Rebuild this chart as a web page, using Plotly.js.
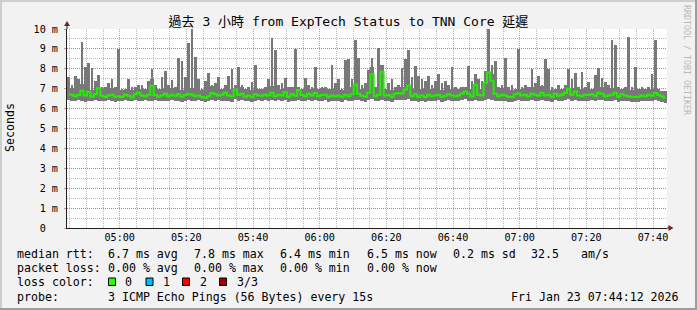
<!DOCTYPE html>
<html>
<head>
<meta charset="utf-8">
<script src="https://cdn.plot.ly/plotly-3.0.1.min.js"></script>
<style>html,body{margin:0;padding:0;background:#f2f2f2;}#chart{width:697px;height:310px;}</style>
</head>
<body>
<div id="chart"></div>
<script>
// ---- data (ms), one value per minute, starting 04:44:12 ----
const startTime = Date.UTC(2026, 0, 23, 4, 44, 12);
const stepMs = 60000;

const smokeMax = [
  7.6, 7.2, 7.65, 7.5, 9.33, 8.1, 8.27, 8.05, 7.4, 7.67,
  7.1, 7.1, 7.27, 7.47, 7.1, 9.0, 7.0, 7.0, 7.5, 7.1,
  7.1, 7.2, 7.2, 7.0, 7.4, 8.0, 7.2, 7.0, 7.6, 7.9,
  7.2, 7.43, 7.1, 8.55, 8.38, 7.6, 9.3, 10.1, 8.6, 7.5,
  7.0, 7.4, 7.8, 7.2, 7.3, 7.6, 7.0, 7.2, 7.65, 7.97,
  7.2, 8.1, 7.2, 7.0, 7.1, 7.35, 8.18, 7.0, 7.0, 7.1,
  7.47, 9.55, 8.97, 7.2, 7.3, 7.55, 7.1, 7.1, 9.0, 7.1,
  7.0, 7.55, 7.2, 7.1, 8.08, 7.0, 7.1, 7.1, 7.0, 8.17,
  7.3, 7.47, 7.0, 8.42, 8.47, 7.47, 9.47, 8.55, 7.2, 7.3,
  7.92, 8.55, 7.1, 9.05, 8.2, 7.0, 7.3, 7.47, 7.1, 7.2,
  8.05, 8.5, 8.95, 7.6, 8.15, 7.63, 7.47, 7.38, 7.63, 7.2,
  7.38, 7.72, 7.3, 7.38, 7.2, 8.1, 7.1, 7.0, 7.1, 7.1,
  8.13, 7.38, 7.72, 7.47, 7.38, 7.88, 10.05, 8.2, 8.38, 7.1,
  7.2, 8.55, 7.1, 7.2, 7.0, 9.0, 7.1, 7.2, 7.1, 7.97,
  7.3, 7.63, 7.2, 8.5, 8.0, 7.1, 7.0, 7.2, 7.0, 7.2,
  7.97, 7.47, 7.77, 7.1, 7.83, 7.1, 7.32, 7.0, 7.7, 8.04,
  7.55, 7.35, 7.2, 9.43, 9.2, 7.1, 7.0, 7.1, 9.62, 7.1,
  8.1, 7.0, 7.1, 7.0, 7.1, 7.76, 9.46, 7.0, 6.9, 6.9
];

const smokeMin = [
  6.42, 6.40, 6.36, 6.44, 6.38, 6.34, 6.40, 6.36, 6.42, 6.38,
  6.40, 6.36, 6.44, 6.40, 6.34, 6.38, 6.36, 6.42, 6.40, 6.36,
  6.44, 6.40, 6.38, 6.42, 6.36, 6.40, 6.44, 6.38, 6.36, 6.40,
  6.38, 6.42, 6.36, 6.40, 6.34, 6.38, 6.42, 6.40, 6.36, 6.44,
  6.36, 6.32, 6.40, 6.44, 6.38, 6.42, 6.36, 6.40, 6.38, 6.34,
  6.46, 6.40, 6.44, 6.38, 6.36, 6.34, 6.40, 6.42, 6.38, 6.44,
  6.40, 6.44, 6.38, 6.42, 6.36, 6.44, 6.34, 6.40, 6.38, 6.42,
  6.40, 6.36, 6.44, 6.38, 6.42, 6.36, 6.40, 6.44, 6.34, 6.38,
  6.36, 6.40, 6.34, 6.42, 6.38, 6.40, 6.44, 6.42, 6.36, 6.34,
  6.42, 6.46, 6.36, 6.40, 6.44, 6.38, 6.40, 6.34, 6.42, 6.44,
  6.42, 6.44, 6.46, 6.36, 6.40, 6.34, 6.38, 6.32, 6.40, 6.36,
  6.38, 6.42, 6.34, 6.38, 6.42, 6.40, 6.36, 6.38, 6.44, 6.46,
  6.40, 6.36, 6.44, 6.40, 6.38, 6.44, 6.46, 6.42, 6.40, 6.36,
  6.40, 6.38, 6.34, 6.32, 6.40, 6.42, 6.38, 6.40, 6.36, 6.42,
  6.40, 6.36, 6.44, 6.38, 6.40, 6.34, 6.42, 6.36, 6.40, 6.44,
  6.46, 6.40, 6.44, 6.38, 6.36, 6.40, 6.38, 6.42, 6.36, 6.44,
  6.42, 6.36, 6.38, 6.40, 6.44, 6.34, 6.40, 6.38, 6.36, 6.34,
  6.32, 6.34, 6.38, 6.36, 6.40, 6.36, 6.42, 6.40, 6.34, 6.30
];

const medianRtt = [
  6.72, 6.70, 6.62, 6.68, 6.90, 6.66, 6.85, 6.60, 6.72, 7.02,
  6.65, 6.58, 6.66, 6.70, 6.60, 6.62, 6.58, 6.70, 6.64, 6.56,
  6.72, 6.80, 6.66, 6.62, 6.70, 7.15, 6.68, 6.60, 6.66, 6.74,
  6.62, 6.70, 6.64, 6.72, 6.60, 6.68, 6.74, 6.70, 6.62, 6.66,
  6.58, 6.54, 6.62, 6.78, 6.72, 6.66, 6.70, 6.80, 6.66, 6.62,
  6.96, 6.70, 6.74, 6.60, 6.66, 6.58, 6.72, 6.66, 6.64, 6.70,
  6.66, 6.80, 6.62, 6.70, 6.66, 6.82, 6.60, 6.72, 6.64, 6.94,
  6.68, 6.62, 6.74, 6.66, 6.78, 6.62, 6.68, 6.70, 6.60, 6.66,
  6.62, 6.66, 6.60, 6.70, 6.62, 6.72, 7.20, 6.74, 6.64, 6.60,
  6.80, 7.72, 6.62, 6.70, 7.85, 6.66, 6.68, 6.60, 6.74, 6.78,
  6.76, 6.96, 7.15, 6.62, 6.72, 6.60, 6.66, 6.58, 6.70, 6.62,
  6.66, 6.70, 6.60, 6.64, 6.72, 6.66, 6.62, 6.66, 6.76, 6.86,
  6.74, 6.62, 7.20, 6.70, 6.66, 7.30, 7.82, 7.40, 6.74, 6.62,
  6.70, 6.66, 6.60, 6.58, 6.72, 6.76, 6.66, 6.70, 6.62, 6.74,
  6.70, 6.64, 6.80, 6.66, 6.70, 6.60, 6.74, 6.64, 6.70, 6.78,
  7.00, 6.70, 6.86, 6.66, 6.62, 6.70, 6.68, 6.72, 6.64, 6.80,
  6.74, 6.62, 6.66, 6.70, 6.80, 6.60, 6.72, 6.66, 6.62, 6.60,
  6.58, 6.60, 6.66, 6.62, 6.70, 6.64, 6.78, 6.70, 6.62, 6.54
];

const yTickVals = [0, 1, 2, 3, 4, 5, 6, 7, 8, 9, 10];
const yTickText = ['0\u00a0\u00a0', '1 m', '2 m', '3 m', '4 m', '5 m', '6 m', '7 m', '8 m', '9 m', '10 m'];

const titleText = '過去 3 小時 from ExpTech Status to TNN Core 延遲';
const statsRtt = ['6.7 ms avg', '7.8 ms max', '6.4 ms min', '6.5 ms now', '0.2 ms sd', '32.5', 'am/s'];
const statsLoss = ['0.00 % avg', '0.00 % max', '0.00 % min', '0.00 % now'];
const lossLabels = ['0', '1', '2', '3/3'];
const lossColors = ['#26ff00', '#00b8ff', '#ff0000', '#a00000'];
const probeText = '3 ICMP Echo Pings (56 Bytes) every 15s';
const stampText = 'Fri Jan 23 07:44:12 2026';

// ---- build ----
const xs = smokeMax.map((_, i) => startTime + (i + 0.5) * stepMs);
// dense smoke body around the median, narrower spikes above it
const bodyTop = smokeMax.map((v, i) => Math.min(v, medianRtt[i] + 0.35));
const bodySpan = bodyTop.map((v, i) => v - smokeMin[i]);
const spikeSpan = smokeMax.map((v, i) => Math.max(0, v - bodyTop[i]));
const endTime = startTime + smokeMax.length * stepMs;

const MONO = 'DejaVu Sans Mono, Noto Sans CJK TC, monospace';
const L = 67, R = 667, T = 29, B = 228;
const px = x => (x - L) / (R - L);
const py = y => (B - y) / (B - T);

function txt(x, y, s, size, extra) {
  return Object.assign({
    xref: 'paper', yref: 'paper', x: px(x), y: py(y), text: s, showarrow: false,
    xanchor: 'left', yanchor: 'middle', borderpad: 0,
    font: {family: MONO, size: size, color: '#000'}
  }, extra || {});
}

const LEG = 11.6;
const annotations = [
  txt(16, 254, 'median rtt:', LEG),
  txt(107, 254, statsRtt[0], LEG), txt(193, 254, statsRtt[1], LEG),
  txt(279, 254, statsRtt[2], LEG), txt(365.5, 254, statsRtt[3], LEG),
  txt(451.5, 254, statsRtt[4], LEG), txt(530, 254, statsRtt[5], LEG),
  txt(580, 254, statsRtt[6], LEG),
  txt(16, 268, 'packet loss:', LEG),
  txt(107, 268, statsLoss[0], LEG), txt(193, 268, statsLoss[1], LEG),
  txt(279, 268, statsLoss[2], LEG), txt(365.5, 268, statsLoss[3], LEG),
  txt(16, 282, 'loss color:', LEG),
  txt(124, 282, lossLabels[0], LEG), txt(162, 282, lossLabels[1], LEG),
  txt(199, 282, lossLabels[2], LEG), txt(235.5, 282, lossLabels[3], LEG),
  txt(16, 296.5, 'probe:', LEG),
  txt(107, 296.5, probeText, LEG),
  txt(680, 296.5, stampText, LEG, {xanchor: 'right'}),
  txt(10, 128, 'Seconds', LEG, {xanchor: 'center', textangle: -90}),
  txt(687, 60, 'RRDTOOL / TOBI OETIKER', 8.3, {xanchor: 'center', textangle: 90, font: {family: MONO, size: 8.3, color: '#b8b8b8'}})
];

const shapes = [];
function rectPx(x0, y0, x1, y1, color) {
  shapes.push({type: 'rect', xref: 'paper', yref: 'paper', x0: px(x0), x1: px(x1), y0: py(y0), y1: py(y1),
    fillcolor: color, line: {width: 0}, layer: 'above'});
}
rectPx(0, 0, 697, 2, '#cecece');
rectPx(0, 0, 2, 310, '#cecece');
rectPx(0, 308, 697, 310, '#9e9e9e');
rectPx(695, 0, 697, 310, '#9e9e9e');
const boxX = [108.5, 146, 182.5, 219.5];
lossColors.forEach((c, i) => {
  shapes.push({type: 'rect', xref: 'paper', yref: 'paper', x0: px(boxX[i]), x1: px(boxX[i] + 7),
    y0: py(285.5), y1: py(278), fillcolor: c, line: {color: '#000', width: 1}});
});
shapes.push({type: 'line', xref: 'paper', yref: 'paper', x0: px(67), x1: px(67), y0: py(29), y1: py(25),
  line: {color: '#1f1f1f', width: 1}});
shapes.push({type: 'path', xref: 'paper', yref: 'paper',
  path: `M ${px(64)} ${py(26)} L ${px(70)} ${py(26)} L ${px(67)} ${py(21)} Z`,
  fillcolor: '#7f1f1f', line: {width: 0}});
shapes.push({type: 'line', xref: 'paper', yref: 'paper', x0: px(667), x1: px(669), y0: py(228), y1: py(228),
  line: {color: '#1f1f1f', width: 1}});
shapes.push({type: 'path', xref: 'paper', yref: 'paper',
  path: `M ${px(668.5)} ${py(225)} L ${px(668.5)} ${py(231)} L ${px(673.5)} ${py(228)} Z`,
  fillcolor: '#7f1f1f', line: {width: 0}});

const SMOKE = '#787878';
const traces = [
  {type: 'bar', x: xs, y: bodySpan, base: smokeMin, width: stepMs,
   marker: {color: SMOKE, line: {width: 0}}, hoverinfo: 'skip', showlegend: false},
  {type: 'bar', x: xs, y: spikeSpan, base: bodyTop, width: stepMs * 0.8,
   marker: {color: SMOKE, line: {width: 0}}, hoverinfo: 'skip', showlegend: false},
  {type: 'scatter', mode: 'lines', x: xs, y: medianRtt,
   line: {color: '#22ee00', width: 2, shape: 'hvh'}, hoverinfo: 'skip', showlegend: false}
];

const MGRID = 'rgba(222,79,79,0.6)';
const GRID = 'rgba(143,143,143,0.6)';
const DASH = '1px,1px';

const layout = {
  width: 697, height: 310,
  margin: {l: L, r: 697 - R, t: T, b: 310 - B, pad: 0},
  paper_bgcolor: '#f2f2f2', plot_bgcolor: '#ffffff',
  title: {text: titleText, x: 0.5, xref: 'container', xanchor: 'center', y: 1 - 21 / 310, yref: 'container', yanchor: 'middle',
    font: {family: MONO, size: 13, color: '#000'}},
  bargap: 0, barmode: 'overlay',
  showlegend: false,
  xaxis: {
    type: 'date', range: [startTime, endTime], fixedrange: true,
    tick0: '2026-01-23 05:00:00', dtick: 1200000, tickformat: '%H:%M',
    tickfont: {family: MONO, size: 10.15, color: '#000'},
    showgrid: true, gridcolor: MGRID, griddash: DASH, gridwidth: 1,
    ticks: '', ticklen: 0,
    minor: {dtick: 300000, tick0: '2026-01-23 05:00:00', showgrid: true, gridcolor: GRID, griddash: DASH, gridwidth: 1},
    showline: true, linecolor: '#1f1f1f', linewidth: 1, zeroline: false,
    layer: 'above traces', ticklabelstandoff: 0
  },
  yaxis: {
    range: [0, 10], fixedrange: true,
    tickvals: yTickVals, ticktext: yTickText,
    tickfont: {family: MONO, size: 10.15, color: '#000'},
    showgrid: true, gridcolor: MGRID, griddash: DASH, gridwidth: 1,
    ticks: 'outside', ticklen: 2, tickcolor: MGRID,
    minor: {dtick: 0.5, showgrid: true, gridcolor: GRID, griddash: DASH, gridwidth: 1},
    showline: true, linecolor: '#1f1f1f', linewidth: 1, zeroline: false,
    layer: 'above traces', ticklabelstandoff: 4
  },
  annotations: annotations,
  shapes: shapes
};

Plotly.newPlot('chart', traces, layout, {staticPlot: true, displayModeBar: false});
</script>
</body>
</html>
